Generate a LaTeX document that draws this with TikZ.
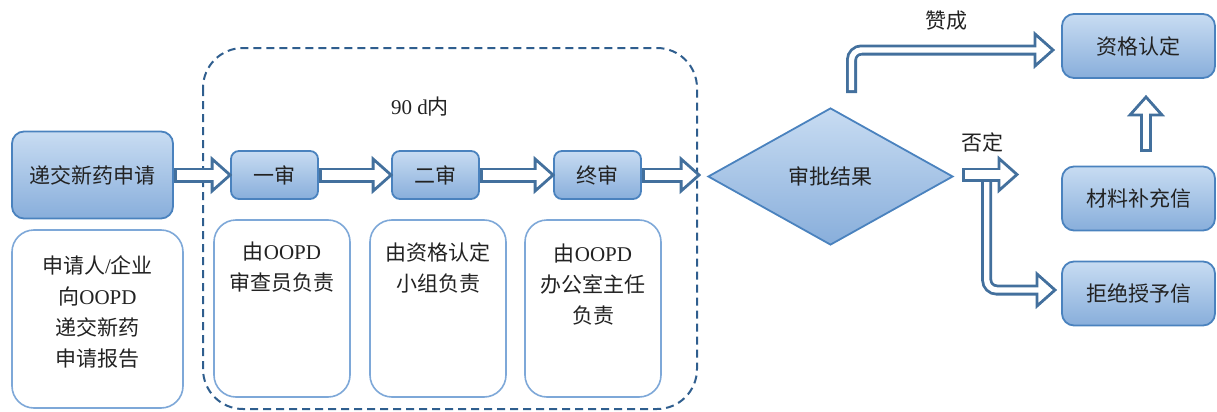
\documentclass[tikz,border=0pt]{standalone}
\usepackage{fontspec}
\setmainfont{Liberation Serif}
\newfontfamily\cjk{Noto Sans CJK SC}
\usetikzlibrary{shapes.geometric,calc}
\definecolor{bdr}{HTML}{4A82BE}
\definecolor{gtop}{HTML}{C8DCF2}
\definecolor{gbot}{HTML}{88AEDB}
\definecolor{arr}{HTML}{43709D}
\definecolor{dsh}{HTML}{2F5E8E}
\definecolor{tbd}{HTML}{7EA8D8}
\definecolor{txt}{HTML}{222222}
\newcommand\zh[1]{{\cjk #1}}
% block arrow: #1 shaft path (ends at head base), #2 tip, #3 angle, #4 outer width, #5 inner width
\newcommand\barrow[5]{%
  \draw[arr, line width=#4, rounded corners=5pt] #1;
  \filldraw[arr, fill=white, line width=1.4pt, line join=miter, shift={#2}, rotate=#3]
    (-9pt,8pt) -- (0pt,0pt) -- (-9pt,-8pt) -- cycle;
  \draw[white, line width=#5, rounded corners=5pt, shorten <=1.4pt, shorten >=-2pt] #1;
}
\begin{document}
\begin{tikzpicture}[x=0.5pt,y=-0.5pt,
  font=\fontsize{10.5pt}{15.5pt}\selectfont, text=txt,
  gbox/.style={draw=bdr, line width=0.9pt, top color=gtop, bottom color=gbot, inner sep=0pt, align=center},
  tbox/.style={draw=tbd, line width=0.8pt, rounded corners=11pt, fill=white, inner sep=0pt},
  lbl/.style={align=center, inner sep=0pt},
  dashbox/.style={draw=dsh, line width=1pt, dash pattern=on 4pt off 2.5pt, rounded corners=20pt}]
\useasboundingbox (0,0) rectangle (1217,412);

% dashed frame
\draw[dashbox] (203,48) rectangle (697,409);
\node[lbl] (days) at (420,107) {90 d\zh{内}};

% left column
\node[gbox, rounded corners=6pt, minimum width=80.5pt, minimum height=43.5pt] (sub) at (92.5,175) {\zh{递交新药申请}};
\node[tbox, minimum width=85.5pt, minimum height=89pt] (rep) at (97.5,319) {};
\node[lbl] (rept) at (97.5,312.5) {\zh{申请人}/\zh{企业}\\\zh{向}OOPD\\\zh{递交新药}\\\zh{申请报告}};

% review steps
\node[gbox, rounded corners=4pt, minimum width=43.5pt, minimum height=24pt] (y1) at (274.5,175) {\zh{一审}};
\node[gbox, rounded corners=4pt, minimum width=43.5pt, minimum height=24pt] (y2) at (435.5,175) {\zh{二审}};
\node[gbox, rounded corners=4pt, minimum width=43.5pt, minimum height=24pt] (y3) at (597.5,175) {\zh{终审}};

\node[tbox, minimum width=68pt, minimum height=88.5pt] (t1) at (282,308.5) {};
\node[tbox, minimum width=68pt, minimum height=88.5pt] (t2) at (438,308.5) {};
\node[tbox, minimum width=68pt, minimum height=88.5pt] (t3) at (593,308.5) {};
\node[lbl] (t1t) at (282,267.5) {\zh{由}OOPD\\\zh{审查员负责}};
\node[lbl] (t2t) at (438,267.5) {\zh{由资格认定}\\\zh{小组负责}};
\node[lbl] (t3t) at (593,285) {\zh{由}OOPD\\\zh{办公室主任}\\\zh{负责}};

% decision
\node[diamond, gbox, minimum width=122.5pt, minimum height=68.5pt, aspect=1.79] (dia) at (830.5,176.5) {\zh{审批结果}};

% right boxes
\node[gbox, rounded corners=6pt, minimum width=76.5pt, minimum height=32pt] (zg) at (1138.5,46) {\zh{资格认定}};
\node[gbox, rounded corners=6pt, minimum width=76.5pt, minimum height=32pt] (cl) at (1138.5,198.5) {\zh{材料补充信}};
\node[gbox, rounded corners=6pt, minimum width=76.5pt, minimum height=32pt] (jj) at (1138.5,293.5) {\zh{拒绝授予信}};

\node[lbl] (yes) at (946,21) {\zh{赞成}};
\node[lbl] (no) at (982,142) {\zh{否定}};

% coordinates for free arrow ends
\coordinate (endfin) at ($(y3.east -| dia.west)+(-4pt,0pt)$);
\coordinate (yesS) at (851.5,93);
\coordinate (yesT) at (1053,50);
\coordinate (noS) at (986.7,175);
\coordinate (noT) at (1055,290);
\coordinate (noS1) at (962,174.5);
\coordinate (noT1) at (1017,174.5);
\coordinate (upS) at (1146,152);
\coordinate (upT) at (1146,97);

% arrows
\barrow{(sub.east) -- ($(y1.west)+(-9pt,0pt)$)}{(y1.west)}{0}{7.5pt}{4.7pt}
\barrow{(y1.east) -- ($(y2.west)+(-9pt,0pt)$)}{(y2.west)}{0}{7.5pt}{4.7pt}
\barrow{(y2.east) -- ($(y3.west)+(-9pt,0pt)$)}{(y3.west)}{0}{7.5pt}{4.7pt}
\barrow{(y3.east) -- ($(endfin)+(-9pt,0pt)$)}{(endfin)}{0}{7.5pt}{4.7pt}
\barrow{(yesS) |- ($(yesT)+(-9pt,0pt)$)}{(yesT)}{0}{5.5pt}{2.7pt}
\barrow{(noS) |- ($(noT)+(-9pt,0pt)$)}{(noT)}{0}{5.5pt}{2.7pt}
\barrow{(noS1) -- ($(noT1)+(-9pt,0pt)$)}{(noT1)}{0}{7pt}{4.2pt}
\barrow{(upS) -- ($(upT)+(0pt,-9pt)$)}{(upT)}{90}{6pt}{3.2pt}
\end{tikzpicture}
\end{document}
